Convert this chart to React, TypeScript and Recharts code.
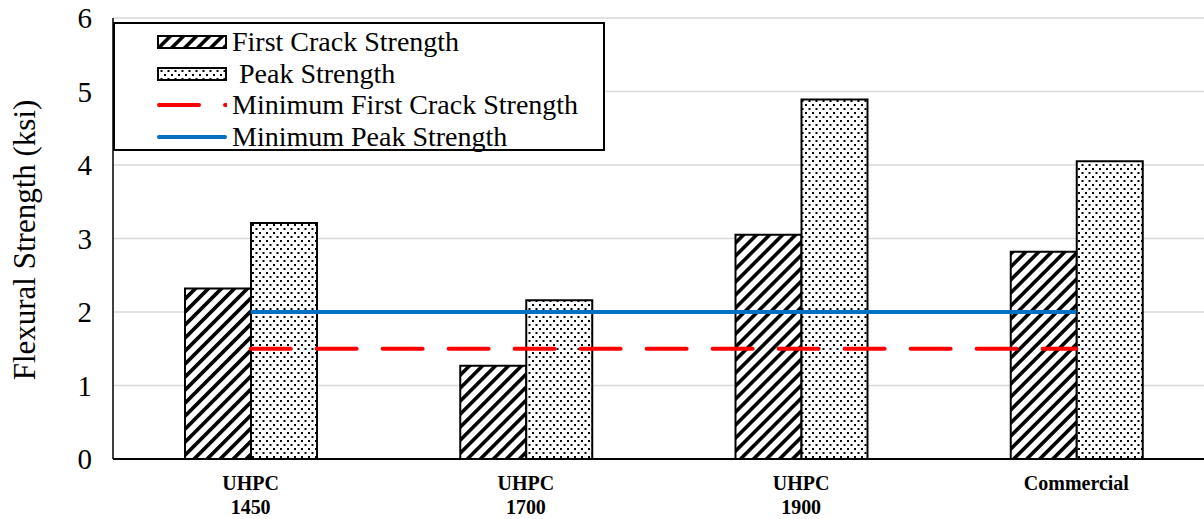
import { ComposedChart, Bar, Line, XAxis, YAxis, CartesianGrid, Legend } from 'recharts'

const categories = ['UHPC 1450', 'UHPC 1700', 'UHPC 1900', 'Commercial']
const firstCrack = [2.32, 1.27, 3.05, 2.82]
const peak = [3.21, 2.16, 4.89, 4.05]
const minFirstCrack = [1.5, 1.5, 1.5, 1.5]
const minPeak = [2, 2, 2, 2]
const yTicks = [0, 1, 2, 3, 4, 5, 6]

const data = categories.map((name, i) => ({
  name,
  firstCrack: firstCrack[i],
  peak: peak[i],
  minFirstCrack: minFirstCrack[i],
  minPeak: minPeak[i],
}))

const serif = '"Liberation Serif", "Times New Roman", serif'

// category labels: bold, slightly tall, one word per line
const XTick = ({ x, y, payload }: any) => {
  const words = String(payload.value).split(' ')
  return (
    <text
      transform={`translate(${x},${y + 31}) scale(1,1.08)`}
      textAnchor="middle"
      fontFamily={serif}
      fontWeight="bold"
      fontSize={20}
      fill="#000"
    >
      {words.map((w, i) => (
        <tspan key={i} x={0} dy={i === 0 ? 0 : 22.2}>
          {w}
        </tspan>
      ))}
    </text>
  )
}

const YLabel = () => (
  <text
    transform="translate(24,240) rotate(-90)"
    textAnchor="middle"
    dominantBaseline="central"
    fontFamily={serif}
    fontSize={31}
    fill="#000"
  >
    Flexural Strength (ksi)
  </text>
)

const legendRows = [
  { key: 'firstCrack', label: 'First Crack Strength' },
  { key: 'peak', label: ' Peak Strength' },
  { key: 'minFirstCrack', label: 'Minimum First Crack Strength' },
  { key: 'minPeak', label: 'Minimum Peak Strength' },
]

const Swatch = ({ k }: { k: string }) => {
  if (k === 'firstCrack' || k === 'peak') {
    return (
      <svg width={70} height={16}>
        <rect x={1} y={2} width={68} height={12} fill={k === 'peak' ? 'url(#dots)' : 'url(#hatch)'} stroke="#000" strokeWidth={2} />
      </svg>
    )
  }
  if (k === 'minFirstCrack') {
    return (
      <svg width={70} height={16}>
        <line x1={2} y1={8} x2={70} y2={8} stroke="#FF0000" strokeWidth={4} strokeDasharray="40 26" strokeLinecap="round" />
      </svg>
    )
  }
  return (
    <svg width={70} height={16}>
      <line x1={2} y1={8} x2={68} y2={8} stroke="#0070C0" strokeWidth={4} strokeLinecap="round" />
    </svg>
  )
}

const LegendBox = () => (
  <div
    style={{
      position: 'relative',
      width: 492,
      height: 129,
      boxSizing: 'border-box',
      border: '2px solid #000',
      background: '#fff',
      fontFamily: serif,
      fontSize: 28,
      color: '#000',
    }}
  >
    {legendRows.map((r, i) => (
      <div
        key={r.key}
        style={{
          position: 'absolute',
          left: 42,
          top: 2 + i * 31.7,
          height: 32,
          display: 'flex',
          alignItems: 'center',
          whiteSpace: 'pre',
          lineHeight: '32px',
        }}
      >
        <Swatch k={r.key} />
        <span style={{ marginLeft: 5 }}>{r.label}</span>
      </div>
    ))}
  </div>
)

export default function App() {
  return (
    <div style={{ position: 'absolute', left: 0, top: 0, width: 1204, height: 519, overflow: 'hidden', background: '#fff' }}>
      <ComposedChart width={1214} height={519} data={data} margin={{ top: 18, right: 0, left: 0, bottom: 0 }} barGap={0}>
        <defs>
          <pattern id="hatch" patternUnits="userSpaceOnUse" width={9.2} height={9.2} patternTransform="rotate(45)">
            <rect width={9.2} height={9.2} fill="#fff" />
            <rect x={0} y={0} width={3.6} height={9.2} fill="#000" />
          </pattern>
          <pattern id="dots" patternUnits="userSpaceOnUse" width={7} height={8}>
            <rect width={7} height={8} fill="#fff" />
            <rect x={0} y={0} width={2} height={2} fill="#000" />
            <rect x={3.5} y={4} width={2} height={2} fill="#000" />
          </pattern>
        </defs>
        <CartesianGrid vertical={false} stroke="#D9D9D9" strokeWidth={1.5} />
        <XAxis
          dataKey="name"
          height={60}
          axisLine={{ stroke: '#000', strokeWidth: 2 }}
          tickLine={false}
          tickSize={0}
          tickMargin={0}
          tick={<XTick />}
          interval={0}
        />
        <YAxis
          width={113}
          domain={[0, 6]}
          ticks={yTicks}
          axisLine={{ stroke: '#000', strokeWidth: 1.5 }}
          tickLine={false}
          tickSize={0}
          tickMargin={21}
          tick={{ fill: '#000', fontSize: 29, fontFamily: serif }}
          label={{ content: () => <YLabel /> }}
        />
        <Legend
          layout="vertical"
          align="center"
          verticalAlign="middle"
          content={() => <LegendBox />}
          wrapperStyle={{ left: 113, top: 22, width: 492, height: 129 }}
        />
        <Bar dataKey="firstCrack" name="First Crack Strength" barSize={66} fill="url(#hatch)" stroke="#000" strokeWidth={2} isAnimationActive={false} />
        <Bar dataKey="peak" name="Peak Strength" barSize={66} fill="url(#dots)" stroke="#000" strokeWidth={2} isAnimationActive={false} />
        <Line
          dataKey="minFirstCrack"
          name="Minimum First Crack Strength"
          stroke="#FF0000"
          strokeWidth={4}
          strokeDasharray="40 26"
          strokeLinecap="round"
          dot={false}
          activeDot={false}
          isAnimationActive={false}
        />
        <Line
          dataKey="minPeak"
          name="Minimum Peak Strength"
          stroke="#0070C0"
          strokeWidth={4}
          dot={false}
          activeDot={false}
          isAnimationActive={false}
        />
      </ComposedChart>
    </div>
  )
}
